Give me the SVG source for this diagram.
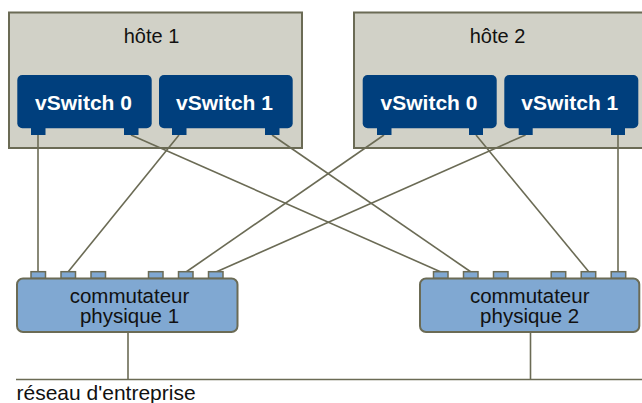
<svg xmlns="http://www.w3.org/2000/svg" width="642" height="403" viewBox="0 0 642 403">
<style>
.host{fill:#d1d1c7;stroke:#6b6b55;stroke-width:2}
.vsw{fill:#003f7d}
.vport{fill:#003f7d}
.psw{fill:#80a8d2;stroke:#6b6b55;stroke-width:2}
.pport{fill:#80a8d2;stroke:#6b6b55;stroke-width:1.5}
.wire{stroke:#6b6b55;stroke-width:1.6;fill:none}
.t{font-family:"Liberation Sans",Arial,sans-serif;fill:#111}
.vt{font-family:"Liberation Sans",Arial,sans-serif;font-weight:bold;fill:#fff;font-size:21px;text-anchor:middle}
.pt{font-family:"Liberation Sans",Arial,sans-serif;fill:#111;font-size:20.5px;text-anchor:middle}
</style>
<rect width="642" height="403" fill="#fff"/>
<g id="host1">
<rect class="host" x="9" y="12.5" width="293" height="135.5"/>
<text class="t" x="151.5" y="42.5" font-size="20" text-anchor="middle">hôte 1</text>
</g>
<g id="host2">
<rect class="host" x="354" y="12.5" width="300" height="135.5"/>
<text class="t" x="497.5" y="42.5" font-size="20" text-anchor="middle">hôte 2</text>
</g>
<g id="connectors">
<line class="wire" x1="38" y1="135" x2="38" y2="272"/>
<line class="wire" x1="131" y1="135" x2="441" y2="272"/>
<line class="wire" x1="179" y1="135" x2="68" y2="272"/>
<line class="wire" x1="272" y1="135" x2="471" y2="272"/>
<line class="wire" x1="384" y1="135" x2="186" y2="272"/>
<line class="wire" x1="476" y1="135" x2="589" y2="272"/>
<line class="wire" x1="525.5" y1="135" x2="216" y2="272"/>
<line class="wire" x1="618" y1="135" x2="618" y2="272"/>
<line class="wire" x1="128" y1="332" x2="128" y2="379.5"/>
<line class="wire" x1="530.5" y1="332" x2="530.5" y2="379.5"/>
<line class="wire" x1="16" y1="379.5" x2="642" y2="379.5"/>
</g>
<g id="h1vs0">
<rect class="vsw" x="17.3" y="75" width="134.4" height="53.3" rx="5"/>
<rect class="vport" x="31" y="128" width="14.5" height="7"/>
<rect class="vport" x="124" y="128" width="14.5" height="7"/>
<text class="vt" x="83.5" y="109.5">vSwitch 0</text>
</g>
<g id="h1vs1">
<rect class="vsw" x="159" y="75" width="133.7" height="53.3" rx="5"/>
<rect class="vport" x="172" y="128" width="14.5" height="7"/>
<rect class="vport" x="265" y="128" width="14.5" height="7"/>
<text class="vt" x="224.5" y="109.5">vSwitch 1</text>
</g>
<g id="h2vs0">
<rect class="vsw" x="362.7" y="75" width="134" height="53.3" rx="5"/>
<rect class="vport" x="377" y="128" width="14.5" height="7"/>
<rect class="vport" x="469" y="128" width="14" height="7"/>
<text class="vt" x="429" y="109.5">vSwitch 0</text>
</g>
<g id="h2vs1">
<rect class="vsw" x="504.3" y="75" width="134" height="53.3" rx="5"/>
<rect class="vport" x="518.7" y="128" width="14" height="7"/>
<rect class="vport" x="611" y="128" width="14" height="7"/>
<text class="vt" x="569.8" y="109.5">vSwitch 1</text>
</g>
<g id="psw1">
<rect class="pport" x="31" y="271.7" width="14.5" height="6.8"/>
<rect class="pport" x="61" y="271.7" width="14.5" height="6.8"/>
<rect class="pport" x="91" y="271.7" width="14.5" height="6.8"/>
<rect class="pport" x="148.5" y="271.7" width="14.5" height="6.8"/>
<rect class="pport" x="178.5" y="271.7" width="14.5" height="6.8"/>
<rect class="pport" x="208.5" y="271.7" width="14.5" height="6.8"/>
<rect class="psw" x="17" y="278.5" width="220.5" height="53.5" rx="6"/>
<text class="pt" x="129.5" y="302.8">commutateur</text>
<text class="pt" x="129.5" y="323.2">physique 1</text>
</g>
<g id="psw2">
<rect class="pport" x="433.5" y="271.7" width="14.5" height="6.8"/>
<rect class="pport" x="463.5" y="271.7" width="14.5" height="6.8"/>
<rect class="pport" x="493.5" y="271.7" width="14.5" height="6.8"/>
<rect class="pport" x="551.2" y="271.7" width="14.5" height="6.8"/>
<rect class="pport" x="581.2" y="271.7" width="14.5" height="6.8"/>
<rect class="pport" x="611.2" y="271.7" width="14.5" height="6.8"/>
<rect class="psw" x="420" y="278.5" width="219.3" height="53.5" rx="6"/>
<text class="pt" x="529.7" y="302.8">commutateur</text>
<text class="pt" x="529.7" y="323.2">physique 2</text>
</g>
<g id="network">
<text class="t" x="16.5" y="399.5" font-size="21">réseau d'entreprise</text>
</g>
</svg>
